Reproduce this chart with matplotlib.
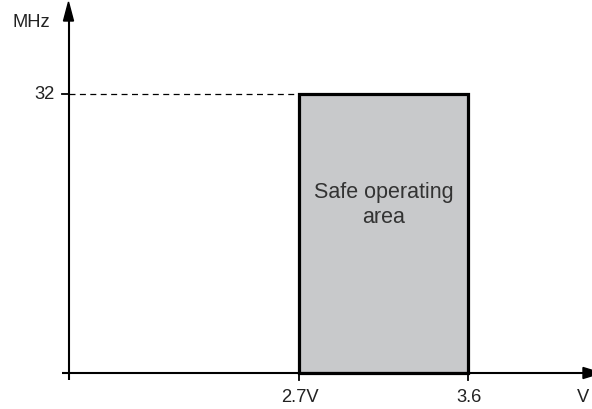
import matplotlib
matplotlib.use("Agg")
import matplotlib.pyplot as plt
from matplotlib.patches import Rectangle, Polygon

# ---- data ----
v_min, v_max = 2.7, 3.6          # safe voltage range (V)
f_max = 32                        # max frequency (MHz)
x_tick_labels = ["2.7V", "3.6"]
y_tick_labels = ["32"]
x_axis_label = "V"
y_axis_label = "MHz"
area_label = "Safe operating\narea"

# ---- layout (pixels) ----
W, H, DPI = 592, 410, 100
px_vmin, px_vmax = 299.5, 468.5
py_f, py_0 = 95.0, 374.0
px_axis = 68.5

sx = (px_vmax - px_vmin) / (v_max - v_min)
sy = (py_0 - py_f) / f_max
xl = (v_min - px_vmin / sx, v_min + (W - px_vmin) / sx)
yl = (0 - (H - py_0) / sy, f_max + py_f / sy)

def X(px):
    return xl[0] + px / sx

def Y(py):
    return yl[1] - py / sy

plt.rcParams['font.family'] = ['Liberation Sans', 'DejaVu Sans']
plt.rcParams['lines.scale_dashes'] = False

fig = plt.figure(figsize=(W / DPI, H / DPI), dpi=DPI)
ax = fig.add_axes([0, 0, 1, 1])
ax.set_xlim(*xl)
ax.set_ylim(*yl)
ax.axis('off')

x0 = X(px_axis)
y0 = 0

# safe operating area rectangle
ax.add_patch(Rectangle((v_min, 0), v_max - v_min, f_max, facecolor='#c8c9cb',
                       edgecolor='black', linewidth=2.3, zorder=2))

# dashed line to 32
ax.plot([x0, v_min], [f_max, f_max], color='black', lw=0.9,
        dashes=(4.3, 3.2), zorder=1)

# axes lines
ax.plot([X(62), X(585)], [y0, y0], color='black', lw=1.5, zorder=3,
        solid_capstyle='butt')
ax.plot([x0, x0], [Y(381), Y(20)], color='black', lw=1.5, zorder=3,
        solid_capstyle='butt')

# arrow heads
ax.add_patch(Polygon([[X(583), Y(368.5)], [X(583), Y(379.5)], [X(601), Y(374)]],
                     closed=True, color='black', zorder=4))
ax.add_patch(Polygon([[X(63.5), Y(22)], [X(73.5), Y(22)], [X(68.5), Y(3)]],
                     closed=True, color='black', zorder=4))

# ticks
for v in (v_min, v_max):
    ax.plot([v, v], [y0, Y(381)], color='black', lw=1.3, zorder=3)
ax.plot([X(62), x0], [f_max, f_max], color='black', lw=1.3, zorder=3)

# tick labels
fs = 13.2
for v, lab in zip((v_min, v_max), x_tick_labels):
    ax.text(v, Y(397.5), lab, ha='center', va='center', fontsize=fs, color='#222222')
ax.text(X(583), Y(397.5), x_axis_label, ha='center', va='center', fontsize=fs, color='#222222')
ax.text(X(55), f_max, y_tick_labels[0], ha='right', va='center', fontsize=fs, color='#222222')
ax.text(X(31.5), Y(23), y_axis_label, ha='center', va='center', fontsize=fs, color='#222222')

# area label
ax.text((v_min + v_max) / 2, Y(205), area_label, ha='center', va='center',
        fontsize=15.5, color='#333333', linespacing=1.2, zorder=5)

fig.savefig('out.png', dpi=DPI)
